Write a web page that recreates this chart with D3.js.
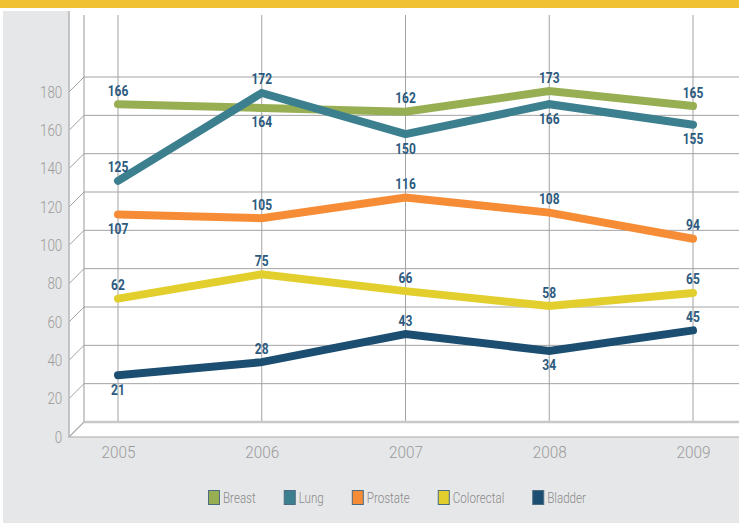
<!DOCTYPE html>
<html>
<head>
<meta charset="utf-8">
<script src="https://cdn.jsdelivr.net/npm/d3@7/dist/d3.min.js"></script>
<style>
body{margin:0;background:#fff}
svg{display:block}
</style>
</head>
<body>
<svg></svg>
<script>
var years = [2005, 2006, 2007, 2008, 2009]
var names = ["Breast", "Lung", "Prostate", "Colorectal", "Bladder"]
var breast = [166, 164, 162, 173, 165]
var lung = [125, 172, 150, 166, 155]
var prostate = [107, 105, 116, 108, 94]
var colorectal = [62, 75, 66, 58, 65]
var bladder = [21, 28, 43, 34, 45]
var yTicks = [0, 20, 40, 60, 80, 100, 120, 140, 160, 180]
// 1 = label above the point, -1 = below
var breastSide = [1, -1, 1, 1, 1]
var lungSide = [1, 1, -1, -1, -1]
var prostateSide = [-1, 1, 1, 1, 1]
var colorectalSide = [1, 1, 1, 1, 1]
var bladderSide = [-1, 1, 1, -1, 1]

var colors = ["#97ae53", "#3c7f8e", "#f68d36", "#e2cf2e", "#1c4e71"]
var series = [breast, lung, prostate, colorectal, bladder]
var sides = [breastSide, lungSide, prostateSide, colorectalSide, bladderSide]

var screen = {width:739, height:525}
var depth = 15
var wall = {left:69, top:15, floor:422}
var lightFont = "Roboto, 'Open Sans', sans-serif"

var svg = d3.select("svg")
  .attr("width", screen.width)
  .attr("height", screen.height)

// yellow band on top and grey panel
svg.append("rect").attr("x",0).attr("y",0).attr("width",screen.width).attr("height",8).attr("fill","#f0c133")
svg.append("rect").attr("x",3).attr("y",11).attr("width",screen.width-3).attr("height",512).attr("fill","#e6e7e8")
svg.append("rect").attr("x",wall.left).attr("y",11).attr("width",screen.width-wall.left).attr("height",wall.floor+depth-11).attr("fill","#fff")

var xScale = d3.scalePoint()
  .domain(years)
  .range([118, 693])

// grid scale (back wall)
var yScale = d3.scaleLinear()
  .domain([0, 180])
  .range([wall.floor, 77])

// the lines sit a little in front of the back wall
var lineScale = d3.scaleLinear()
  .domain([0, 180])
  .range([414.5, 78])

var grid = svg.append("g")

grid.selectAll(".hgrid")
  .data(yTicks.filter(function(t){return t > 0}))
  .enter()
  .append("path")
  .attr("class","hgrid")
  .attr("d", function(t){
    var y = yScale(t)
    return "M"+wall.left+","+(y+depth)+"L"+(wall.left+depth)+","+y+"H"+screen.width
  })
  .attr("fill","none")
  .attr("stroke","#a3a3a3")
  .attr("stroke-width",1)

grid.selectAll(".vgrid")
  .data(years)
  .enter()
  .append("line")
  .attr("x1", function(d){return xScale(d)})
  .attr("x2", function(d){return xScale(d)})
  .attr("y1", wall.top)
  .attr("y2", wall.floor)
  .attr("stroke","#a3a3a3")
  .attr("stroke-width",1)

// back wall left edge
grid.append("line")
  .attr("x1", wall.left+depth).attr("x2", wall.left+depth)
  .attr("y1", wall.top).attr("y2", wall.floor)
  .attr("stroke","#999").attr("stroke-width",1)

// floor
grid.append("line")
  .attr("x1", wall.left+depth).attr("x2", screen.width)
  .attr("y1", wall.floor).attr("y2", wall.floor)
  .attr("stroke","#c8c8c8").attr("stroke-width",2.5)
grid.append("path")
  .attr("d","M"+(wall.left+depth)+","+wall.floor+"L"+wall.left+","+(wall.floor+depth)+"H"+screen.width)
  .attr("fill","none").attr("stroke","#aaa").attr("stroke-width",1.2)

// side wall edge
grid.append("line")
  .attr("x1", wall.left).attr("x2", wall.left)
  .attr("y1", 11).attr("y2", wall.floor+depth)
  .attr("stroke","#b5b5b5").attr("stroke-width",1.5)

// axes
var yAxis = d3.axisLeft(yScale.copy().range([wall.floor+depth, 77+depth]))
  .tickValues(yTicks)
  .tickSize(0)
  .tickPadding(8)

svg.append("g")
  .attr("transform","translate("+wall.left+",0)")
  .call(yAxis)
  .call(function(g){
    g.select(".domain").remove()
    g.selectAll("text")
      .attr("fill","#9b9b9b")
      .attr("transform","scale(0.84,1)")
      .style("font-family",lightFont)
      .style("font-weight","300")
      .style("font-size","16px")
  })

var xAxis = d3.axisBottom(xScale)
  .tickSize(0)
  .tickPadding(9)

svg.append("g")
  .attr("transform","translate(0,"+(wall.floor+depth)+")")
  .call(xAxis)
  .call(function(g){
    g.select(".domain").remove()
    g.selectAll("text")
      .attr("fill","#9b9b9b")
      .attr("transform","scale(0.93,1)")
      .style("font-family",lightFont)
      .style("font-weight","300")
      .style("font-size","16.5px")
  })

// lines
var line = d3.line()
  .x(function(d, i){return xScale(years[i])})
  .y(function(d){return lineScale(d)})

svg.append("g")
  .selectAll("path")
  .data(series)
  .enter()
  .append("path")
  .attr("d", line)
  .attr("fill","none")
  .attr("stroke", function(d, i){return colors[i]})
  .attr("stroke-width",8)
  .attr("stroke-linecap","round")
  .attr("stroke-linejoin","miter")

// value labels
series.forEach(function(vals, s){
  svg.append("g")
    .selectAll("text")
    .data(vals)
    .enter()
    .append("text")
    .attr("transform", function(d, i){
      var y = sides[s][i] > 0 ? lineScale(d) - 8.5 : lineScale(d) + 19.5
      return "translate("+xScale(years[i])+","+y+") scale(0.8,1)"
    })
    .attr("text-anchor","middle")
    .attr("fill","#2c5a7e")
    .style("font-family","Roboto, sans-serif")
    .style("font-weight","bold")
    .style("font-size","15px")
    .text(function(d){return d})
})

// legend
var legend = svg.append("g")
var lx = 208
names.forEach(function(name, i){
  var item = legend.append("g").attr("transform","translate("+lx+",490)")
  item.append("rect")
    .attr("x",0.5).attr("y",0.5).attr("width",11).attr("height",14)
    .attr("fill",colors[i]).attr("stroke","#4a6b80").attr("stroke-width",1)
  var t = item.append("text")
    .attr("transform","translate(15,12.5) scale(0.8,1)")
    .attr("fill","#8a8a8a")
    .style("font-family",lightFont)
    .style("font-weight","300")
    .style("font-size","14.5px")
    .text(name)
  lx += 15 + t.node().getComputedTextLength()*0.8 + 28
})
</script>
</body>
</html>
